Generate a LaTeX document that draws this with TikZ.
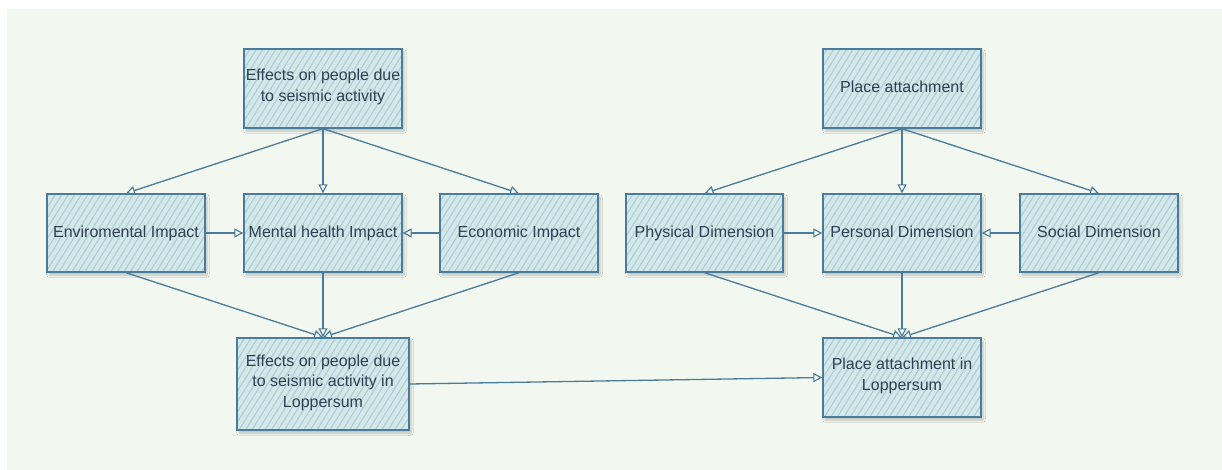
\documentclass[tikz,border=0pt]{standalone}
\usepackage{fontspec}
\setmainfont{Liberation Sans}
\usetikzlibrary{arrows.meta,patterns.meta,shadows.blur}

\definecolor{paper}{HTML}{F2F8EF}
\definecolor{boxfill}{HTML}{D4E8EA}
\definecolor{hatch}{HTML}{AFCED6}
\definecolor{edge}{HTML}{4A7B9B}
\definecolor{ink}{HTML}{2E4052}

\tikzset{
  sketchbox/.style={
    draw=edge, line width=1.4pt, text=ink,
    minimum width=158pt, minimum height=79pt,
    align=center, inner xsep=1pt, inner ysep=4pt,
    font=\fontsize{16}{20.5}\selectfont,
    execute at begin node=\strut, execute at end node=\strut,
    preaction={blur shadow={shadow xshift=2pt, shadow yshift=-3pt,
      shadow blur steps=6, shadow opacity=22}},
    preaction={fill=boxfill},
    pattern={Lines[angle=58, distance=5.5pt, line width=1.2pt]},
    pattern color=hatch
  },
  link/.style={draw=edge, line width=1.3pt,
    -{Triangle[open, length=9pt, width=9pt, line width=1.1pt]}}
}

\begin{document}
\begin{tikzpicture}[x=1pt, y=-1pt]
  % canvas and backdrop
  \useasboundingbox (0,0) rectangle (1222,470);
  \fill[white] (0,0) rectangle (1222,470);
  \fill[paper] (7,9) rectangle (1222,470);

  % left tree: seismic effects
  \node[sketchbox] (eff) at (323,88.5) {Effects on people due\\to seismic activity};
  \node[sketchbox, minimum height=78pt] (env) at (126,233) {Enviromental Impact};
  \node[sketchbox, minimum height=78pt] (men) at (323,233) {Mental health Impact};
  \node[sketchbox, minimum height=78pt] (eco) at (519,233) {Economic Impact};
  \node[sketchbox, minimum width=172pt, minimum height=92pt] (effL) at (323,384)
    {Effects on people due\\to seismic activity in\\Loppersum};

  % right tree: place attachment
  \node[sketchbox] (pa) at (902,88.5) {Place attachment};
  \node[sketchbox, minimum width=157pt, minimum height=78pt] (phy) at (704.5,233) {Physical Dimension};
  \node[sketchbox, minimum height=78pt] (per) at (902,233) {Personal Dimension};
  \node[sketchbox, minimum height=78pt] (soc) at (1099,233) {Social Dimension};
  \node[sketchbox] (paL) at (902,377.5) {Place attachment in\\Loppersum};

  % connectors, left
  \draw[link] (eff.south) -- (env.north);
  \draw[link] (eff.south) -- (men.north);
  \draw[link] (eff.south) -- (eco.north);
  \draw[link] (env.east) -- (men.west);
  \draw[link] (eco.west) -- (men.east);
  \draw[link] (env.south) -- (effL.north);
  \draw[link] (men.south) -- (effL.north);
  \draw[link] (eco.south) -- (effL.north);

  % connectors, right
  \draw[link] (pa.south) -- (phy.north);
  \draw[link] (pa.south) -- (per.north);
  \draw[link] (pa.south) -- (soc.north);
  \draw[link] (phy.east) -- (per.west);
  \draw[link] (soc.west) -- (per.east);
  \draw[link] (phy.south) -- (paL.north);
  \draw[link] (per.south) -- (paL.north);
  \draw[link] (soc.south) -- (paL.north);

  % link between the two trees
  \draw[link] (effL.east) -- (paL.west);
\end{tikzpicture}
\end{document}
